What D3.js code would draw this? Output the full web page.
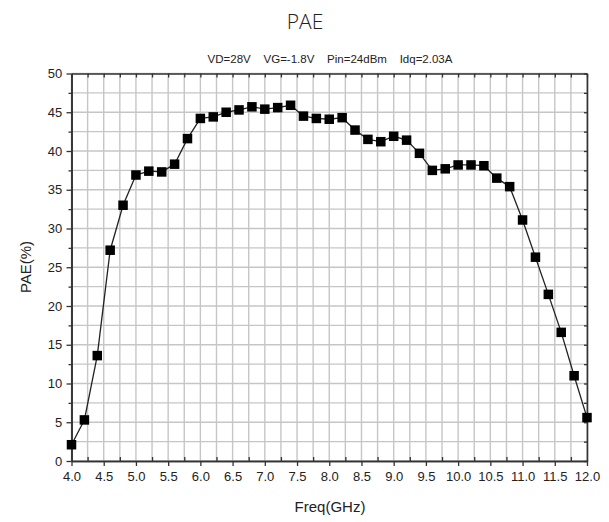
<!DOCTYPE html>
<html>
<head>
<meta charset="utf-8">
<script src="https://cdn.jsdelivr.net/npm/d3@7"></script>
<style>
  body { margin: 0; background: #fff; }
  text { font-family: "Liberation Sans", Arial, sans-serif; fill: #222; }
</style>
</head>
<body>
<script>
// data
var freq = [4.0, 4.2, 4.4, 4.6, 4.8, 5.0, 5.2, 5.4, 5.6, 5.8,
            6.0, 6.2, 6.4, 6.6, 6.8, 7.0, 7.2, 7.4, 7.6, 7.8,
            8.0, 8.2, 8.4, 8.6, 8.8, 9.0, 9.2, 9.4, 9.6, 9.8,
            10.0, 10.2, 10.4, 10.6, 10.8, 11.0, 11.2, 11.4, 11.6, 11.8, 12.0];
var pae  = [2.1, 5.3, 13.6, 27.2, 33.0, 36.9, 37.4, 37.3, 38.3, 41.6,
            44.2, 44.4, 45.0, 45.3, 45.7, 45.4, 45.6, 45.9, 44.5, 44.2,
            44.1, 44.3, 42.7, 41.5, 41.2, 41.9, 41.4, 39.7, 37.5, 37.7,
            38.2, 38.2, 38.1, 36.5, 35.4, 31.1, 26.3, 21.5, 16.6, 11.0, 5.6];
var xTicks = d3.range(4.0, 12.01, 0.5);
var yTicks = d3.range(0, 50.1, 5);
var xMinor = d3.range(4.25, 12, 0.5);
var yMinor = d3.range(2.5, 50, 5);

var W = 609, H = 522;
var m = {l: 71.5, r: 22, t: 73.5, b: 61};

var svg = d3.select('body').append('svg')
    .attr('width', W)
    .attr('height', H);

var x = d3.scaleLinear().domain([4, 12]).range([m.l, W - m.r]);
var y = d3.scaleLinear().domain([0, 50]).range([H - m.b, m.t]);

// grid
var grid = svg.append('g').attr('class', 'grid');
grid.selectAll('line.gv')
  .data(xTicks.concat(xMinor))
  .enter().append('line')
    .attr('class', 'gv')
    .attr('x1', function(d) { return x(d); })
    .attr('x2', function(d) { return x(d); })
    .attr('y1', y(0)).attr('y2', y(50))
    .attr('stroke', '#c6c6c6').attr('stroke-width', 1.4);
grid.selectAll('line.gh')
  .data(yTicks.concat(yMinor))
  .enter().append('line')
    .attr('class', 'gh')
    .attr('x1', x(4)).attr('x2', x(12))
    .attr('y1', function(d) { return y(d); })
    .attr('y2', function(d) { return y(d); })
    .attr('stroke', '#c6c6c6').attr('stroke-width', 1.4);

// axes
var fmt = d3.format('.1f');
var gx = svg.append('g').attr('transform', 'translate(0,' + y(0) + ')')
    .call(d3.axisBottom(x).tickValues(xTicks).tickFormat(fmt).tickSizeInner(5).tickSizeOuter(0));
svg.append('g').attr('transform', 'translate(0,' + y(0) + ')')
    .call(d3.axisTop(x).tickValues(xMinor).tickFormat('').tickSizeInner(4).tickSizeOuter(0));
var gy = svg.append('g').attr('transform', 'translate(' + x(4) + ',0)')
    .call(d3.axisLeft(y).tickValues(yTicks).tickSizeInner(5).tickSizeOuter(0));
svg.append('g').attr('transform', 'translate(' + x(4) + ',0)')
    .call(d3.axisLeft(y).tickValues(yMinor).tickFormat('').tickSizeInner(3).tickSizeOuter(0));
// top and right frame with inner ticks
svg.append('g').attr('transform', 'translate(0,' + y(50) + ')')
    .call(d3.axisBottom(x).tickValues(xTicks.concat(xMinor)).tickFormat('').tickSizeInner(4).tickSizeOuter(0));
svg.append('g').attr('transform', 'translate(' + x(12) + ',0)')
    .call(d3.axisLeft(y).tickValues(yTicks.concat(yMinor)).tickFormat('').tickSizeInner(3).tickSizeOuter(0));

svg.selectAll('.domain').attr('stroke', '#333').attr('stroke-width', 1.6);
svg.selectAll('.tick line').attr('stroke', '#333').attr('stroke-width', 1.3);
gx.selectAll('text').attr('font-size', 13).attr('dy', '0.9em').style('fill', '#222');
gy.selectAll('text').attr('font-size', 13).attr('dx', '-0.1em').style('fill', '#222');
svg.selectAll('.tick text').attr('font-family', '"Liberation Sans", Arial, sans-serif');

// line and markers
var line = d3.line()
    .x(function(d, i) { return x(freq[i]); })
    .y(function(d) { return y(d); });
svg.append('path')
    .datum(pae)
    .attr('d', line)
    .attr('fill', 'none')
    .attr('stroke', '#222')
    .attr('stroke-width', 1.3);

var s = 9.5;
svg.selectAll('rect.mk')
  .data(pae)
  .enter().append('rect')
    .attr('class', 'mk')
    .attr('x', function(d, i) { return x(freq[i]) - s / 2; })
    .attr('y', function(d) { return y(d) - s / 2; })
    .attr('width', s).attr('height', s)
    .attr('fill', '#000');

// titles
svg.append('text')
    .attr('x', 305).attr('y', 29)
    .attr('text-anchor', 'middle')
    .style('font-family', '"Open Sans", sans-serif')
    .style('font-weight', 300)
    .attr('font-size', 21)
    .text('PAE');
svg.append('text')
    .attr('x', 330).attr('y', 63)
    .attr('text-anchor', 'middle')
    .attr('font-size', 11.5)
    .attr('xml:space', 'preserve')
    .style('white-space', 'pre')
    .text('VD=28V    VG=-1.8V    Pin=24dBm    Idq=2.03A');
svg.append('text')
    .attr('x', 330).attr('y', 512)
    .attr('text-anchor', 'middle')
    .attr('font-size', 15)
    .text('Freq(GHz)');
svg.append('text')
    .attr('transform', 'translate(31,267) rotate(-90)')
    .attr('text-anchor', 'middle')
    .attr('font-size', 15)
    .text('PAE(%)');
</script>
</body>
</html>
